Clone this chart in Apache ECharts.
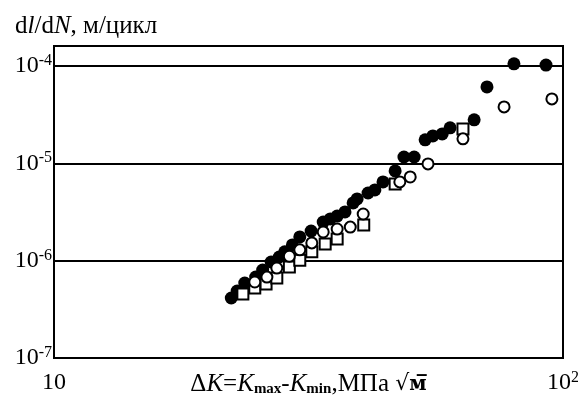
<!DOCTYPE html>
<html>
<head>
<meta charset="utf-8">
<script src="https://cdn.jsdelivr.net/npm/echarts@6/dist/echarts.min.js"></script>
<style>
  html, body { margin: 0; padding: 0; background: #fff; }
  #chart { width: 578px; height: 399px; }
</style>
</head>
<body>
<div id="chart"></div>
<script>
// ΔK (MPa·√m) and dl/dN (m/cycle)
const filledK = [22.3, 22.9, 23.7, 24.9, 25.7, 26.7, 27.7, 28.4, 29.4, 30.4, 32.0, 33.8, 34.9, 36.0, 37.3, 38.7, 39.4, 41.4, 42.7, 44.3, 46.8, 48.7, 51.0, 53.6, 55.5, 57.9, 60.0, 66.9, 70.9, 80.1, 92.6]
const filledRate = [4.13e-7, 4.87e-7, 5.89e-7, 6.78e-7, 8.0e-7, 9.68e-7, 1.09e-6, 1.23e-6, 1.45e-6, 1.75e-6, 2.01e-6, 2.49e-6, 2.68e-6, 2.87e-6, 3.16e-6, 3.91e-6, 4.30e-6, 4.95e-6, 5.32e-6, 6.43e-6, 8.34e-6, 1.16e-5, 1.16e-5, 1.74e-5, 1.91e-5, 2.0e-5, 2.31e-5, 2.79e-5, 6.08e-5, 1.05e-4, 1.02e-4]

const openK = [24.8, 26.2, 27.4, 29.0, 30.4, 32.1, 33.8, 36.0, 38.2, 40.5, 47.8, 50.1, 54.3, 63.6, 76.6, 95.1]
const openRate = [6.03e-7, 6.78e-7, 8.39e-7, 1.11e-6, 1.29e-6, 1.52e-6, 1.97e-6, 2.11e-6, 2.21e-6, 3.01e-6, 6.43e-6, 7.23e-6, 9.84e-6, 1.78e-5, 3.79e-5, 4.58e-5]

const squareK = [23.5, 24.8, 26.1, 27.4, 29.0, 30.4, 32.1, 34.1, 36.0, 40.6, 46.8, 63.6]
const squareRate = [4.54e-7, 5.23e-7, 5.75e-7, 6.63e-7, 8.59e-7, 1.01e-6, 1.23e-6, 1.48e-6, 1.67e-6, 2.32e-6, 6.12e-6, 2.25e-5]

const xTicks = [10, 100]
const xTickLabels = ['{b|10}', '{b|10}{s|2}']
const yTicks = [1e-7, 1e-6, 1e-5, 1e-4]
const yTickLabels = ['{b|10}{s|-7}', '{b|10}{s|-6}', '{b|10}{s|-5}', '{b|10}{s|-4}']

const zip = (xs, ys) => xs.map((x, i) => [x, ys[i]])
const serif = 'Liberation Serif'
const supRich = {
  b: { fontFamily: serif, fontSize: 24, color: '#000', lineHeight: 26 },
  s: { fontFamily: serif, fontSize: 16, color: '#000', verticalAlign: 'top', lineHeight: 14 },
}

const chart = echarts.init(document.getElementById('chart'))
chart.setOption({
  animation: false,
  backgroundColor: '#fff',
  title: {
    text: '{n|d}{i|l}{n|/d}{i|N}{n|, м/цикл}',
    left: 15,
    top: 14,
    padding: 0,
    textStyle: {
      fontSize: 25,
      fontWeight: 'normal',
      fontFamily: serif,
      rich: {
        n: { fontFamily: serif, fontSize: 25, fontWeight: 'normal', color: '#000' },
        i: { fontFamily: serif, fontSize: 25, fontWeight: 'normal', fontStyle: 'italic', color: '#000' },
      },
    },
  },
  grid: {
    left: 54,
    right: 15,
    top: 46,
    bottom: 41,
    outerBoundsMode: 'none',
    show: true,
    borderColor: '#000',
    borderWidth: 2,
  },
  xAxis: {
    type: 'log',
    logBase: 10,
    min: 10,
    max: 100,
    axisLine: { show: false },
    axisTick: { show: false },
    splitLine: { show: false },
    minorTick: { show: false },
    axisLabel: {
      customValues: xTicks,
      margin: 12,
      formatter: (v) => xTickLabels[xTicks.findIndex((t) => Math.abs(t - v) / t < 1e-6)] || '',
      rich: supRich,
    },
    name: '{n|Δ}{i|K}{n|=}{i|K}{sub|max}{n|-}{i|K}{sub|min}{n|,МПа }{r|√}{m|м\u0305}',
    nameLocation: 'middle',
    nameGap: 14,
    nameMoveOverlap: false,
    nameTextStyle: {
      verticalAlign: 'top',
      rich: {
        n: { fontFamily: serif, fontSize: 25, color: '#000' },
        i: { fontFamily: serif, fontSize: 25, fontStyle: 'italic', color: '#000' },
        sub: { fontFamily: serif, fontSize: 15, fontWeight: 'bold', color: '#000', verticalAlign: 'bottom', padding: [0, 0, 0, 0] },
        r: { fontFamily: 'DejaVu Serif', fontSize: 22, color: '#000' },
        m: { fontFamily: 'DejaVu Serif', fontSize: 20, fontWeight: 'bold', color: '#000' },
      },
    },
  },
  yAxis: {
    type: 'log',
    logBase: 10,
    min: 1e-7,
    max: 1.6e-4,
    axisLine: { show: false },
    axisTick: { show: false },
    splitLine: { show: true, lineStyle: { color: '#000', width: 2 } },
    axisLabel: {
      customValues: yTicks,
      margin: 2,
      formatter: (v) => yTickLabels[yTicks.findIndex((t) => Math.abs(t - v) / t < 1e-6)] || '',
      rich: supRich,
    },
  },
  series: [
    {
      name: 'filled',
      type: 'scatter',
      data: zip(filledK, filledRate),
      symbol: 'circle',
      symbolSize: 13,
      itemStyle: { color: '#000', opacity: 1 },
      z: 2,
    },
    {
      name: 'square',
      type: 'scatter',
      data: zip(squareK, squareRate),
      symbol: 'rect',
      symbolSize: 11,
      itemStyle: { color: '#fff', borderColor: '#000', borderWidth: 2, opacity: 1 },
      z: 3,
    },
    {
      name: 'open',
      type: 'scatter',
      data: zip(openK, openRate),
      symbol: 'circle',
      symbolSize: 11,
      itemStyle: { color: '#fff', borderColor: '#000', borderWidth: 2, opacity: 1 },
      z: 4,
    },
  ],
})
</script>
</body>
</html>
